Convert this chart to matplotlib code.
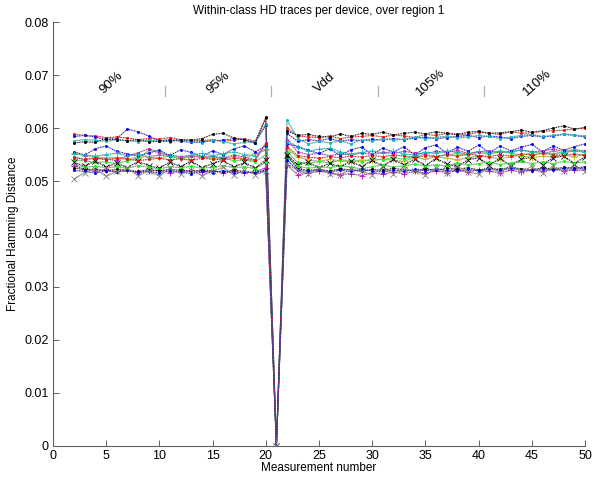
import matplotlib
matplotlib.use("Agg")
import matplotlib.pyplot as plt

plt.rcParams["font.family"] = ["Liberation Sans", "DejaVu Sans"]
plt.rcParams["font.size"] = 8.5

# measurement numbers 2..50, point 21 is the reference (HD = 0)
meas = list(range(2, 51))

regions = ["90%", "95%", "Vdd", "105%", "110%"]
region_mid = [5.5, 15.5, 25.5, 35.5, 45.5]
region_sep = [10.5, 20.5, 30.5, 40.5]

colours = ["r", "b", "c", "k", "y", "#00ff00", "m", "b",
           "c", "k", "r", "#00ff00", "m", "k", "b", "#808080"]
markers = [".", ".", ".", ".", "+", ".", ".", ".",
           "+", "x", ".", ".", "+", ".", ".", "x"]

hd = [
    [.0588, .0586, .0585, .0582, .0583, .0581, .0578, .0580, .0579, .0582, .0578, .0577, .0576, .0578, .0575, .0577, .0580, .0575, .0618, 0.0,
     .0600, .0585, .0583, .0582, .0585, .0580, .0583, .0584, .0586, .0583, .0587, .0585, .0582, .0588, .0586, .0590, .0587, .0588, .0592, .0590, .0588, .0593, .0590, .0591, .0594, .0595, .0596, .0598, .0600],
    [.0584, .0586, .0583, .0578, .0580, .0598, .0593, .0585, .0576, .0578, .0575, .0573, .0574, .0576, .0577, .0580, .0578, .0572, .0605, 0.0,
     .0590, .0575, .0578, .0576, .0580, .0575, .0578, .0576, .0579, .0577, .0580, .0578, .0581, .0583, .0580, .0582, .0584, .0586, .0582, .0585, .0583, .0580, .0584, .0586, .0583, .0585, .0588, .0586, .0583],
    [.0576, .0578, .0577, .0575, .0578, .0576, .0574, .0577, .0576, .0574, .0578, .0575, .0572, .0577, .0574, .0570, .0573, .0574, .0608, 0.0,
     .0615, .0580, .0570, .0575, .0572, .0576, .0570, .0578, .0575, .0580, .0577, .0579, .0583, .0580, .0582, .0585, .0581, .0583, .0586, .0584, .0580, .0583, .0586, .0588, .0584, .0586, .0589, .0587, .0585],
    [.0572, .0574, .0573, .0580, .0578, .0576, .0578, .0574, .0575, .0576, .0578, .0577, .0580, .0588, .0590, .0581, .0578, .0571, .0620, 0.0,
     .0595, .0586, .0588, .0584, .0583, .0589, .0584, .0590, .0588, .0592, .0587, .0590, .0592, .0589, .0593, .0590, .0588, .0592, .0594, .0590, .0591, .0593, .0596, .0592, .0595, .0600, .0604, .0598, .0601],
    [.0553, .0548, .0545, .0544, .0543, .0541, .0545, .0546, .0544, .0547, .0543, .0545, .0547, .0544, .0545, .0546, .0542, .0552, .0558, 0.0,
     .0560, .0545, .0540, .0537, .0541, .0538, .0536, .0540, .0538, .0542, .0539, .0537, .0545, .0541, .0546, .0543, .0540, .0544, .0547, .0545, .0542, .0546, .0548, .0544, .0547, .0545, .0549, .0546, .0550],
    [.0540, .0538, .0535, .0536, .0533, .0538, .0542, .0558, .0557, .0545, .0543, .0548, .0546, .0541, .0544, .0538, .0540, .0536, .0550, 0.0,
     .0555, .0535, .0533, .0537, .0534, .0540, .0538, .0536, .0542, .0540, .0544, .0541, .0548, .0550, .0546, .0549, .0552, .0548, .0554, .0550, .0556, .0552, .0549, .0553, .0555, .0551, .0554, .0557, .0555],
    [.0546, .0540, .0544, .0541, .0539, .0548, .0553, .0561, .0552, .0549, .0546, .0548, .0544, .0547, .0542, .0549, .0545, .0540, .0572, 0.0,
     .0578, .0555, .0550, .0552, .0548, .0551, .0549, .0553, .0550, .0554, .0552, .0556, .0553, .0551, .0556, .0554, .0558, .0552, .0555, .0557, .0553, .0556, .0558, .0555, .0557, .0560, .0556, .0559, .0557],
    [.0555, .0549, .0561, .0566, .0556, .0551, .0547, .0553, .0558, .0548, .0559, .0554, .0546, .0557, .0550, .0561, .0566, .0555, .0566, 0.0,
     .0570, .0565, .0558, .0552, .0561, .0548, .0559, .0564, .0550, .0562, .0555, .0565, .0549, .0563, .0568, .0552, .0564, .0556, .0568, .0553, .0566, .0557, .0564, .0569, .0555, .0566, .0558, .0565, .0570],
    [.0551, .0549, .0547, .0550, .0552, .0548, .0550, .0546, .0549, .0547, .0544, .0549, .0552, .0548, .0551, .0555, .0550, .0548, .0560, 0.0,
     .0575, .0565, .0556, .0560, .0562, .0555, .0551, .0554, .0557, .0553, .0556, .0551, .0549, .0555, .0552, .0557, .0554, .0551, .0556, .0553, .0557, .0554, .0559, .0555, .0552, .0556, .0553, .0557, .0554],
    [.0535, .0528, .0538, .0526, .0534, .0525, .0537, .0529, .0524, .0536, .0527, .0538, .0525, .0533, .0539, .0526, .0535, .0524, .0540, 0.0,
     .0550, .0530, .0536, .0524, .0534, .0526, .0538, .0527, .0539, .0528, .0541, .0530, .0542, .0529, .0543, .0532, .0527, .0540, .0544, .0530, .0543, .0529, .0541, .0545, .0531, .0544, .0547, .0533, .0546],
    [.0544, .0541, .0543, .0540, .0544, .0542, .0538, .0541, .0543, .0540, .0542, .0539, .0543, .0541, .0540, .0543, .0541, .0539, .0570, 0.0,
     .0565, .0548, .0545, .0543, .0546, .0544, .0547, .0545, .0548, .0546, .0549, .0547, .0544, .0548, .0546, .0550, .0547, .0551, .0548, .0546, .0550, .0547, .0551, .0549, .0552, .0550, .0548, .0551, .0549],
    [.0530, .0526, .0528, .0525, .0527, .0524, .0529, .0526, .0523, .0527, .0525, .0528, .0524, .0526, .0529, .0525, .0527, .0523, .0535, 0.0,
     .0545, .0528, .0524, .0527, .0525, .0529, .0526, .0523, .0527, .0530, .0526, .0529, .0532, .0528, .0531, .0528, .0534, .0530, .0533, .0536, .0531, .0534, .0537, .0533, .0536, .0533, .0537, .0534, .0536],
    [.0529, .0522, .0519, .0521, .0518, .0520, .0517, .0519, .0521, .0516, .0518, .0520, .0517, .0519, .0516, .0518, .0515, .0517, .0525, 0.0,
     .0530, .0512, .0515, .0518, .0516, .0512, .0514, .0510, .0515, .0513, .0517, .0514, .0518, .0515, .0519, .0516, .0520, .0517, .0521, .0518, .0516, .0520, .0517, .0521, .0518, .0522, .0519, .0521, .0520],
    [.0525, .0521, .0523, .0519, .0522, .0520, .0518, .0521, .0519, .0522, .0520, .0518, .0521, .0519, .0517, .0520, .0518, .0516, .0521, 0.0,
     .0548, .0523, .0520, .0522, .0519, .0523, .0521, .0518, .0522, .0520, .0524, .0521, .0519, .0523, .0520, .0524, .0522, .0525, .0521, .0524, .0522, .0526, .0523, .0521, .0525, .0522, .0526, .0524, .0527],
    [.0520, .0518, .0515, .0519, .0517, .0520, .0516, .0518, .0515, .0519, .0517, .0514, .0518, .0516, .0519, .0515, .0517, .0515, .0519, 0.0,
     .0540, .0520, .0518, .0521, .0517, .0520, .0518, .0522, .0519, .0517, .0521, .0518, .0522, .0519, .0523, .0520, .0518, .0522, .0519, .0523, .0520, .0524, .0521, .0519, .0523, .0520, .0524, .0522, .0525],
    [.0504, .0516, .0522, .0509, .0518, .0524, .0510, .0519, .0509, .0525, .0513, .0521, .0510, .0518, .0526, .0511, .0520, .0512, .0518, 0.0,
     .0532, .0520, .0513, .0524, .0514, .0511, .0523, .0518, .0512, .0526, .0513, .0522, .0519, .0511, .0525, .0516, .0528, .0517, .0513, .0526, .0516, .0529, .0518, .0527, .0515, .0528, .0518, .0530, .0519],
]

fig = plt.figure(figsize=(5.94, 4.79), dpi=100)
ax = fig.add_axes([0.089, 0.069, 0.896, 0.885])

for vals, c, m in zip(hd, colours, markers):
    ax.plot(meas, vals, "-", color="#b4b4b4", lw=0.8, zorder=1)
    ax.plot(meas, vals, ":", color=c, lw=0.7, marker=m,
            ms=3 if m == "." else 4.5, mew=0.6, zorder=2)

# region separators and labels
for xs in region_sep:
    ax.plot([xs, xs], [0.066, 0.068], color="#b0b0b0", lw=0.9)
for xm, lab in zip(region_mid, regions):
    ax.text(xm, 0.0686, lab, rotation=42, ha="center", va="center", fontsize=9.5)

ax.set_xlim(0, 50)
ax.set_ylim(0, 0.08)
ax.set_xticks(range(0, 51, 5))
ax.set_yticks([0, 0.01, 0.02, 0.03, 0.04, 0.05, 0.06, 0.07, 0.08])
ax.set_yticklabels(["0", "0.01", "0.02", "0.03", "0.04", "0.05", "0.06", "0.07", "0.08"])
ax.spines["top"].set_visible(False)
ax.spines["right"].set_visible(False)
for s in ["left", "bottom"]:
    ax.spines[s].set_color("#606060")
    ax.spines[s].set_linewidth(0.8)
ax.tick_params(direction="in", length=4, width=0.7, color="#606060", labelsize=9, pad=3)

ax.set_title("Within-class HD traces per device, over region 1", fontsize=8.5, pad=6)
ax.set_xlabel("Measurement number", fontsize=8.5, labelpad=0)
ax.set_ylabel("Fractional Hamming Distance", fontsize=8.5, labelpad=4)

fig.savefig("out.png", dpi=100)
